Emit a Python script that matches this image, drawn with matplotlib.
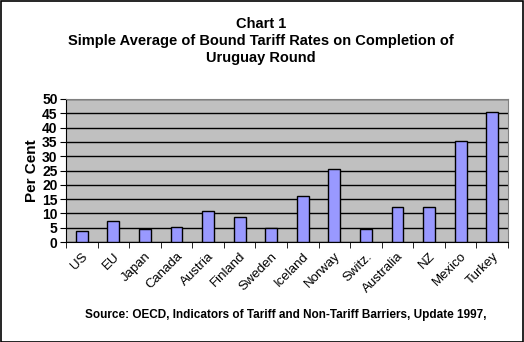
import numpy as np
import matplotlib
matplotlib.use('Agg')
import matplotlib.pyplot as plt
from matplotlib.patches import Rectangle

countries = ['US', 'EU', 'Japan', 'Canada', 'Austria', 'Finland', 'Sweden',
             'Iceland', 'Norway', 'Switz.', 'Australia', 'NZ', 'Mexico', 'Turkey']
rates = [3.8, 7.2, 4.5, 5.2, 10.7, 8.7, 4.9, 16.1, 25.5, 4.6, 12.2, 12.2, 35.3, 45.4]
yticks = [0, 5, 10, 15, 20, 25, 30, 35, 40, 45, 50]

plt.rcParams['font.family'] = ['Liberation Sans', 'DejaVu Sans']

fig = plt.figure(figsize=(5.24, 3.42), dpi=100)
W, H = 524, 342
ax = fig.add_axes([66 / W, 1 - 242 / H, (508 - 66) / W, (242 - 99) / H])
ax.set_facecolor('#C0C0C0')

x = np.arange(len(countries))
ax.bar(x, rates, width=0.38, color='#9999FF', edgecolor='black', linewidth=1, zorder=3)

ax.set_xlim(-0.5, len(countries) - 0.5)
ax.set_ylim(0, 50)
ax.set_yticks(yticks)
ax.set_yticklabels([str(v) for v in yticks], fontsize=10, fontweight='bold')
ax.yaxis.grid(True, color='black', linewidth=1, zorder=1)
ax.set_axisbelow(True)

ax.set_xticks(x)
ax.set_xticklabels(countries, rotation=45, ha='right', rotation_mode='anchor', fontsize=9.5)
ax.tick_params(axis='x', length=0, pad=6)
ax.set_xticks(np.arange(-0.5, len(countries)), minor=True)
ax.tick_params(axis='x', which='minor', length=4, direction='out', color='black')
ax.tick_params(axis='y', length=4, direction='out', pad=2)

for s in ['top', 'right']:
    ax.spines[s].set_color('#808080')
for s in ['left', 'bottom']:
    ax.spines[s].set_color('black')

ax.set_ylabel('Per Cent', fontsize=11, fontweight='bold', labelpad=2)

fig.text(261 / W, 1 - 24 / H, 'Chart 1', ha='center', va='center', fontsize=10.5, fontweight='bold')
fig.text(261 / W, 1 - 41 / H, 'Simple Average of Bound Tariff Rates on Completion of',
         ha='center', va='center', fontsize=10.5, fontweight='bold')
fig.text(261 / W, 1 - 58 / H, 'Uruguay Round', ha='center', va='center', fontsize=10.5, fontweight='bold')
fig.text(85 / W, 1 - 315 / H, 'Source: OECD, Indicators of Tariff and Non-Tariff Barriers, Update 1997,',
         ha='left', va='center', fontsize=8.5, fontweight='bold')

fig.patches.append(Rectangle((0.5 / W, 0.5 / H), 1 - 1.5 / W, 1 - 1.5 / H, transform=fig.transFigure,
                             fill=False, edgecolor='black', linewidth=1.2))

fig.savefig('out.png', dpi=100)
